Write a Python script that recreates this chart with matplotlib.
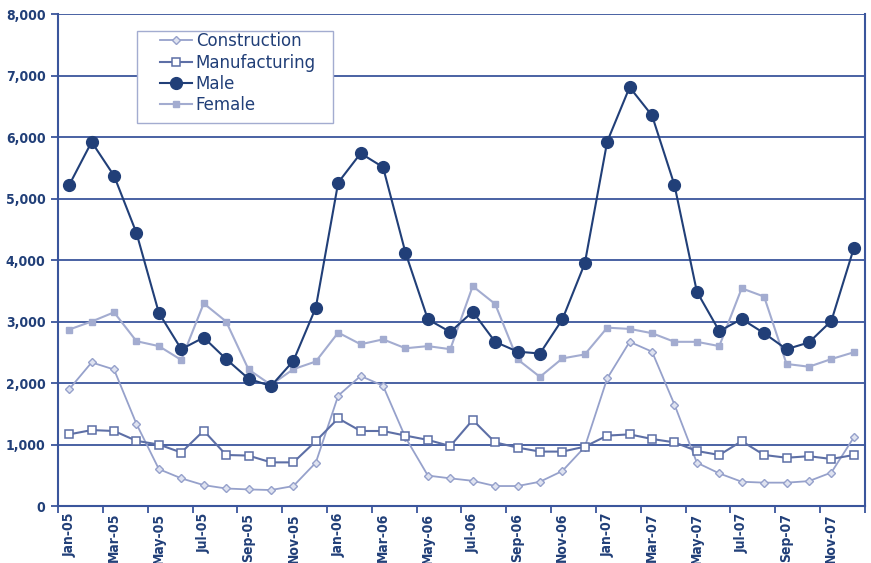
import matplotlib
matplotlib.use("Agg")
import matplotlib.pyplot as plt
from matplotlib.ticker import FixedLocator, FuncFormatter
from matplotlib.patches import Rectangle

months = ["Jan-05","Feb-05","Mar-05","Apr-05","May-05","Jun-05","Jul-05","Aug-05","Sep-05","Oct-05","Nov-05","Dec-05",
          "Jan-06","Feb-06","Mar-06","Apr-06","May-06","Jun-06","Jul-06","Aug-06","Sep-06","Oct-06","Nov-06","Dec-06",
          "Jan-07","Feb-07","Mar-07","Apr-07","May-07","Jun-07","Jul-07","Aug-07","Sep-07","Oct-07","Nov-07","Dec-07"]

construction = [1900, 2335, 2220, 1335, 600, 450, 340, 285, 270, 260, 325, 705,
                1795, 2115, 1955, 1115, 495, 450, 410, 325, 325, 395, 570, 960,
                2075, 2670, 2510, 1650, 705, 530, 395, 380, 380, 405, 545, 1115]
manufacturing = [1165, 1235, 1220, 1060, 1000, 870, 1225, 830, 820, 710, 710, 1055,
                 1425, 1220, 1220, 1145, 1075, 975, 1400, 1035, 950, 885, 885, 965,
                 1145, 1165, 1090, 1035, 895, 830, 1055, 830, 785, 810, 765, 830]
male = [5220, 5920, 5370, 4440, 3140, 2550, 2740, 2390, 2070, 1950, 2360, 3225,
        5260, 5735, 5510, 4120, 3035, 2830, 3160, 2670, 2510, 2480, 3035, 3945,
        5925, 6810, 6350, 5220, 3485, 2845, 3040, 2810, 2550, 2660, 3010, 4190]
female = [2870, 3000, 3150, 2680, 2600, 2375, 3295, 3000, 2220, 1970, 2225, 2350,
          2820, 2630, 2710, 2565, 2600, 2550, 3575, 3285, 2385, 2100, 2400, 2465,
          2900, 2880, 2810, 2670, 2670, 2600, 3540, 3405, 2310, 2265, 2390, 2500]

navy = "#213f78"
axis_col = "#3a559c"
fem_col = "#a3acd0"
con_col = "#96a1cb"
man_col = "#5d6fa6"

fig = plt.figure(figsize=(8.71, 5.63), dpi=100)
ax = fig.add_axes([0.0666, 0.1012, 0.9265, 0.8739])

x = list(range(len(months)))
ax.plot(x, construction, color=con_col, lw=1.3, marker="D", ms=4,
        markerfacecolor="#dfe3f0", markeredgecolor=con_col, markeredgewidth=1, label="Construction", zorder=3)
ax.plot(x, manufacturing, color=man_col, lw=1.5, marker="s", ms=5.5,
        markerfacecolor="white", markeredgecolor=man_col, markeredgewidth=1.1, label="Manufacturing", zorder=4)
ax.plot(x, male, color=navy, lw=1.5, marker="o", ms=8.5,
        markerfacecolor=navy, markeredgecolor=navy, label="Male", zorder=5)
ax.plot(x, female, color=fem_col, lw=1.5, marker="s", ms=4,
        markerfacecolor=fem_col, markeredgecolor=fem_col, label="Female", zorder=4)

ax.set_xlim(-0.5, len(months) - 0.5)
ax.set_ylim(0, 8000)
ax.set_yticks(range(0, 8001, 1000))
ax.yaxis.set_major_formatter(FuncFormatter(lambda v, p: f"{int(v):,}"))
ax.yaxis.grid(True, color=axis_col, lw=1.3)
ax.set_axisbelow(True)

ax.set_xticks(x[::2])
ax.set_xticklabels(months[::2], rotation=90)
ax.xaxis.set_minor_locator(FixedLocator([i - 0.5 for i in range(0, len(months) + 1, 2)]))
ax.tick_params(axis="x", which="major", length=0, pad=5)
ax.tick_params(axis="x", which="minor", length=5, width=1.3, color=axis_col)
ax.tick_params(axis="y", length=5, width=1.3, color=axis_col, direction="out", pad=4)
for lab in ax.get_xticklabels() + ax.get_yticklabels():
    lab.set_color(navy)
    lab.set_fontweight("bold")
    lab.set_fontstretch("condensed")
    lab.set_fontsize(10)

for s in ["left", "right", "bottom"]:
    ax.spines[s].set_color(axis_col)
    ax.spines[s].set_linewidth(1.5)
ax.spines["top"].set_visible(False)

# legend box
ax.add_patch(Rectangle((0.0979, 0.7785), 0.2429, 0.187, transform=ax.transAxes,
                       facecolor="white", edgecolor="#a3acd0", lw=1.0, zorder=6))
leg = ax.legend(loc="upper left", bbox_to_anchor=(0.1264, 0.963), frameon=False,
                fontsize=12, labelspacing=0.2, handlelength=1.9, borderpad=0,
                handletextpad=0.25, borderaxespad=0)
leg.set_zorder(7)
for t in leg.get_texts():
    t.set_color(navy)

fig.savefig("out.png", dpi=100)
